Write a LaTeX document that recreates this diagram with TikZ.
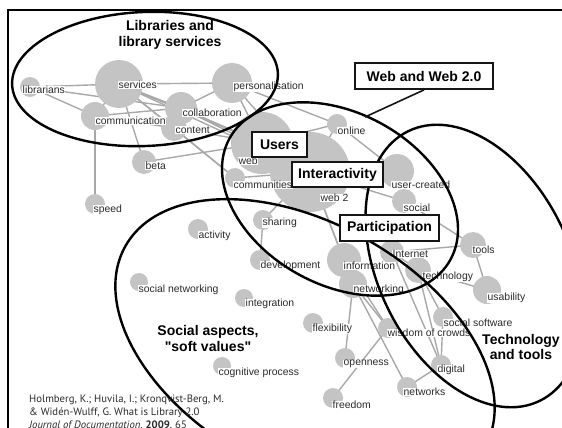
\documentclass[tikz,border=0pt]{standalone}
\usepackage{fontspec}
\setmainfont{Liberation Sans}
\newfontfamily\citefont{PT Sans}
\usetikzlibrary{backgrounds}
\definecolor{nodegray}{HTML}{C4C4C4}
\definecolor{edgegray}{HTML}{A8A8A8}
\definecolor{labeltext}{HTML}{2A2A2A}
\definecolor{boxline}{HTML}{151515}
\newcommand\gn[4]{\node[nd, minimum size=#4*2pt] (#1) at (#2,#3) {};}
\newcommand\gl[4]{\node[lb] (#1-l) at (#2,#3) {#4};}
\begin{document}
\begin{tikzpicture}[x=1pt,y=-1pt,
  nd/.style={circle, fill=nodegray, draw=none, inner sep=0pt},
  lb/.style={anchor=west, fill=white, inner sep=0.5pt, font=\fontsize{10.4}{11}\selectfont, text=labeltext},
  ed/.style={draw=edgegray, line width=1.4pt},
  ell/.style={draw=black, line width=2.4pt},
  bx/.style={draw=boxline, line width=1.8pt, fill=white, font=\fontsize{14}{16}\selectfont\bfseries, inner sep=0pt, minimum height=25pt},
  ttl/.style={font=\fontsize{14}{16}\selectfont\bfseries, align=center, text=black, inner sep=0pt}]
\useasboundingbox (0,0) rectangle (562,428);
% nodes
\gn{lib}{30}{87}{10}
\gn{serv}{119}{84}{24}
\gn{pers}{232}{83}{20}
\gn{coll}{181}{108}{16}
\gn{cont}{174}{128}{13}
\gn{comm}{95}{116}{14}
\gn{beta}{144}{162}{12}
\gn{speed}{95}{204}{10}
\gn{web}{262}{143}{31}
\gn{webii}{310}{172}{40}
\gn{online}{337}{124}{10}
\gn{commun}{235}{178}{10}
\gn{usercr}{397}{171}{17}
\gn{social}{404}{201}{12}
\gn{tools}{473}{245}{13}
\gn{internet}{392}{252}{12}
\gn{techn}{418}{270}{13}
\gn{usab}{487}{290}{14}
\gn{info}{344}{260}{17}
\gn{netw}{353}{284}{14}
\gn{devel}{260}{260}{10}
\gn{shar}{263}{220}{10}
\gn{activ}{198}{229}{10}
\gn{socnet}{139}{282}{9}
\gn{integ}{244}{298}{9}
\gn{cogn}{222}{366}{9}
\gn{flex}{313}{323}{10}
\gn{wisdom}{388}{328}{10}
\gn{socsw}{443}{317}{10}
\gn{open}{345}{358}{10}
\gn{digital}{441}{365}{10}
\gn{networks}{407}{387}{10}
\gn{freedom}{333}{398}{10}
% edges
\begin{scope}[on background layer]
\foreach \a/\b in {lib/serv, lib/comm, lib/coll, serv/pers, serv/coll, serv/cont, serv/comm,
  serv/beta, serv/web, serv/commun, serv/webii, comm/speed, comm/cont, comm/coll, beta/web,
  cont/web, cont/commun, coll/web, coll/webii, coll/pers, pers/web, pers/online, pers/webii,
  online/web, online/webii, online/usercr, web/webii, commun/webii, shar/webii, shar/devel,
  webii/info, webii/netw, webii/usercr, webii/social, info/netw, netw/open, netw/networks,
  netw/wisdom, wisdom/freedom, socsw/digital, techn/usab, tools/usab, tools/social,
  tools/internet, internet/techn, techn/socsw, digital/networks, internet/digital, info/wisdom,
  techn/digital}
  \draw[ed] (\a.center) -- (\b.center);
\end{scope}
% labels
\gl{lib}{22}{90}{librarians}
\gl{serv}{118}{85}{services}
\gl{pers}{233}{87}{personalisation}
\gl{coll}{182}{113}{collaboration}
\gl{cont}{175}{130}{content}
\gl{comm}{95}{121}{communication}
\gl{beta}{145}{166}{beta}
\gl{speed}{93}{210}{speed}
\gl{web}{238}{161}{web}
\gl{webii}{320}{198}{web 2}
\gl{online}{337}{131}{online}
\gl{commun}{233}{185}{communities}
\gl{usercr}{391}{185}{user-created}
\gl{social}{403}{208}{social}
\gl{tools}{472}{250}{tools}
\gl{internet}{392}{254}{Internet}
\gl{techn}{422}{277}{technology}
\gl{usab}{487}{298}{usability}
\gl{info}{343}{266}{information}
\gl{netw}{353}{290}{networking}
\gl{devel}{260}{266}{development}
\gl{shar}{262}{223}{sharing}
\gl{activ}{198}{236}{activity}
\gl{socnet}{138}{290}{social networking}
\gl{integ}{245}{304}{integration}
\gl{cogn}{218}{373}{cognitive process}
\gl{flex}{312}{329}{flexibility}
\gl{wisdom}{387}{333}{wisdom of crowds}
\gl{socsw}{443}{323}{social software}
\gl{open}{343}{364}{openness}
\gl{digital}{437}{370}{digital}
\gl{networks}{403}{392}{networks}
\gl{freedom}{332}{405}{freedom}
% frame
\draw[line width=2.5pt] (8,428) -- (8,10) -- (562,10);
% big ellipses
\draw[ell, rotate around={2.5:(145,79)}] (145,79) ellipse [x radius=133pt, y radius=67pt];
\draw[ell, rotate around={-28.7:(340,199)}] (340,199) ellipse [x radius=126pt, y radius=86pt];
\draw[ell, rotate around={-64:(474,266)}] (474,266) ellipse [x radius=150pt, y radius=96pt];
\draw[ell, rotate around={-29.3:(305,347)}] (305,347) ellipse [x radius=206pt, y radius=124pt];
% boxes
\coordinate (wend) at (365,117);
\node[bx, minimum width=138pt, minimum height=26pt] (webbox) at (424,76) {Web and Web 2.0};
\draw[line width=1.6pt, draw=boxline] (webbox.south) -- (wend);
\node[bx, minimum width=55pt] (users) at (279.5,144.5) {Users};
\node[bx, minimum width=91pt] (inter) at (337.5,174.5) {Interactivity};
\node[bx, minimum width=99pt, minimum height=26pt] (partic) at (389.5,228) {Participation};
% titles
\node[ttl] (libt) at (170,35) {Libraries and\\library services};
\node[ttl, font=\fontsize{14}{15}\selectfont\bfseries] (techt) at (521,347) {Technology\\and tools};
\node[ttl] (soct) at (208,338) {Social aspects,\\\textquotedbl soft values\textquotedbl};
% citation
\node[anchor=north west, align=left, inner sep=0pt, text=labeltext,
  font=\citefont\fontsize{10.7}{13}\selectfont] (cite) at (29,395)
  {Holmberg, K.; Huvila, I.; Kronqvist-Berg, M.\\
   \& Widén-Wulff, G. What is Library 2.0\\
   \textit{Journal of Documentation}, \textbf{2009}, 65};
\end{tikzpicture}
\end{document}
